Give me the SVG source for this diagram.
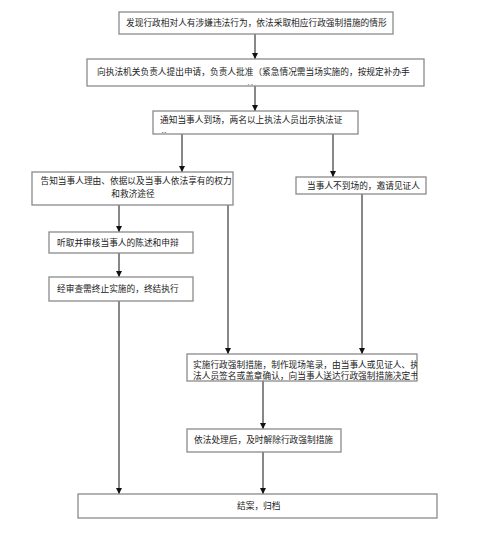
<svg xmlns="http://www.w3.org/2000/svg" width="498" height="559" viewBox="0 0 498 559">
<style>
.box{fill:#fff;stroke:#8a8a8a;stroke-width:1.3}
.t{font-family:"Liberation Serif","Noto Sans CJK SC",serif;font-size:8.7px;fill:#222}
.c{text-anchor:middle}
.ln{stroke:#111;stroke-width:1;fill:none;marker-end:url(#ah)}
</style>
<defs>
<marker id="ah" viewBox="0 0 6 6" refX="6" refY="3" markerWidth="6" markerHeight="6" markerUnits="userSpaceOnUse" orient="auto">
<path d="M0,0 L6,3 L0,6 z" fill="#111"/>
</marker>
<clipPath id="cp2"><rect x="87" y="59" width="337" height="26"/></clipPath>
<clipPath id="cp3"><rect x="153" y="111" width="205" height="22"/></clipPath>
<clipPath id="cp8"><rect x="187" y="354" width="230" height="29"/></clipPath>
</defs>
<rect width="498" height="559" fill="#fff"/>
<g id="connectors">
<line class="ln" x1="255" y1="34" x2="255" y2="59"/>
<line class="ln" x1="255" y1="86" x2="255" y2="111"/>
<line class="ln" x1="182" y1="134" x2="182" y2="172"/>
<line class="ln" x1="333" y1="134" x2="333" y2="177"/>
<line class="ln" x1="119" y1="205" x2="119" y2="232"/>
<line class="ln" x1="228" y1="205" x2="228" y2="354"/>
<line class="ln" x1="362" y1="194" x2="362" y2="354"/>
<line class="ln" x1="119" y1="253" x2="119" y2="277"/>
<line class="ln" x1="119" y1="301" x2="119" y2="494"/>
<line class="ln" x1="263" y1="381" x2="263" y2="429"/>
<line class="ln" x1="263" y1="452" x2="263" y2="494"/>
</g>
<g id="n1">
<rect class="box" x="119" y="12" width="274" height="22"/>
<text class="t" x="126" y="25.5">发现行政相对人有涉嫌违法行为，依法采取相应行政强制措施的情形</text>
</g>
<g id="n2">
<rect class="box" x="87" y="59" width="337" height="27"/>
<g clip-path="url(#cp2)">
<text class="t" x="97" y="75">向执法机关负责人提出申请，负责人批准（紧急情况需当场实施的，按规定补办手</text>
<text class="t c" x="255" y="91.5">续）</text>
</g>
</g>
<g id="n3">
<rect class="box" x="153" y="111" width="205" height="23"/>
<g clip-path="url(#cp3)">
<text class="t" x="160" y="123">通知当事人到场，两名以上执法人员出示执法证</text>
<text class="t" x="160" y="139.5">件</text>
</g>
</g>
<g id="n4">
<rect class="box" x="32" y="172" width="201" height="33"/>
<text class="t c" x="136" y="184">告知当事人理由、依据以及当事人依法享有的权力</text>
<text class="t c" x="133" y="197">和救济途径</text>
</g>
<g id="n5">
<rect class="box" x="296" y="177" width="130" height="17"/>
<text class="t" x="307" y="189">当事人不到场的，邀请见证人</text>
</g>
<g id="n6">
<rect class="box" x="49" y="232" width="144" height="21"/>
<text class="t" x="57" y="245.5">听取并审核当事人的陈述和申辩</text>
</g>
<g id="n7">
<rect class="box" x="49" y="277" width="144" height="24"/>
<text class="t" x="57" y="292">经审查需终止实施的，终结执行</text>
</g>
<g id="n8">
<rect class="box" x="187" y="354" width="230" height="27"/>
<g clip-path="url(#cp8)">
<text class="t" x="193" y="368">实施行政强制措施，制作现场笔录，由当事人或见证人、执</text>
<text class="t" x="193" y="379">法人员签名或盖章确认，向当事人送达行政强制措施决定书</text>
</g>
</g>
<g id="n9">
<rect class="box" x="187" y="429" width="154" height="23"/>
<text class="t" x="194" y="442.5">依法处理后，及时解除行政强制措施</text>
</g>
<g id="n10">
<rect class="box" x="78" y="494" width="359" height="24"/>
<text class="t" x="237" y="508.5">结案，归档</text>
</g>
</svg>
